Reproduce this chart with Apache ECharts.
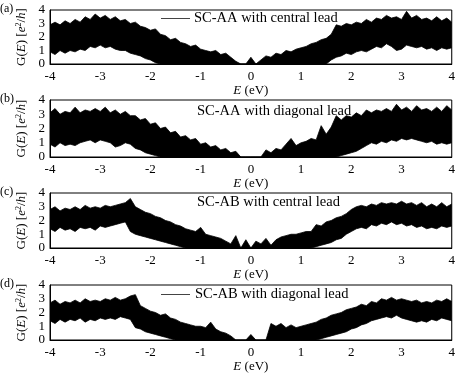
<!DOCTYPE html>
<html><head><meta charset="utf-8">
<script src="https://cdn.jsdelivr.net/npm/echarts@6/dist/echarts.min.js"></script>
<style>html,body{margin:0;padding:0;background:#fff}#c{width:458px;height:375px}</style>
</head><body><div id="c"></div>
<script>
// ---- data ----
// upper and lower envelope of the noisy conductance at E = -4.0, -3.9, ..., 4.0 (81 values each)
const panelTitles = ['SC-AA with central lead', 'SC-AA with diagonal lead', 'SC-AB with central lead', 'SC-AB with diagonal lead'];
const panelLetters = ['(a)', '(b)', '(c)', '(d)'];
const xTicks = [-4, -3, -2, -1, 0, 1, 2, 3, 4];
const yTicks = [0, 1, 2, 3, 4];

const upperA = [2.9,3.1,2.9,3.2,3.0,3.3,3.1,3.5,3.3,3.7,3.4,3.6,3.3,3.5,3.2,3.3,3.0,3.1,2.8,2.7,2.5,2.6,2.2,2.1,1.8,1.9,1.6,1.5,1.3,1.4,1.1,1.0,0.9,1.0,0.7,0.8,0.5,0.2,0.0,0.0,0.5,0.0,0.3,0.6,0.5,0.8,0.7,1.0,0.9,1.1,1.2,1.3,1.5,1.6,1.8,1.9,2.2,2.9,2.8,3.0,2.9,3.1,3.0,3.3,3.1,3.4,3.3,3.6,3.4,3.5,3.3,3.9,3.4,3.6,3.3,3.4,3.2,3.5,3.2,3.4,3.1];
const lowerA = [0.9,0.7,1.0,0.8,1.0,0.9,1.1,1.0,1.3,1.2,1.4,1.2,1.3,1.1,1.0,1.0,0.8,0.7,0.6,0.4,0.3,0.1,
  0,0,0,0,0,0,0,0,0,0,0,0,0,0,0,0,0,0,0,0,0,0,0,0,0,0,0,0,0,0,0,0,0,0,
  0.3,0.5,0.6,0.8,0.7,0.9,1.0,0.9,1.1,1.3,1.2,1.5,1.3,1.0,1.1,1.4,1.3,1.2,1.3,1.1,1.2,1.0,1.2,1.1,1.2];

const upperB = [3.1,3.4,3.0,3.2,3.1,3.5,3.1,3.3,3.2,3.4,3.2,3.5,3.1,3.3,3.0,3.2,2.9,2.9,2.6,2.7,2.3,2.4,2.0,2.1,1.7,1.8,1.4,1.5,1.2,1.3,0.9,1.0,0.7,0.8,0.5,0.6,0.3,0.4,0.0,0.0,0.0,0.0,0.0,0.5,0.3,0.6,0.5,0.9,1.3,0.8,1.0,1.1,1.3,1.2,2.2,1.6,2.1,2.9,2.6,2.9,2.8,3.1,2.9,3.3,3.1,3.3,3.2,3.4,3.2,3.7,3.3,3.5,3.2,3.6,3.3,3.4,3.2,3.5,3.2,3.6,3.3];
const lowerB = [0.9,0.7,1.0,0.8,0.9,0.8,1.0,1.1,1.2,1.0,1.2,1.1,1.0,0.7,0.8,1.0,0.9,0.6,0.5,0.3,0.2,0.1,0.0,0.0,
  0,0,0,0,0,0,0,0,0,0,0,0,0,0,0,0,0,0,0,0,0,0,0,0,0,0,0,0,0,0,0,0,0,0,
  0.1,0.2,0.3,0.4,0.6,0.8,1.0,0.9,1.1,1.0,1.2,1.1,1.3,1.2,1.3,1.2,1.1,1.0,1.1,0.9,1.0,0.9,1.0];

const upperC = [2.8,3.0,2.7,2.9,2.8,3.0,2.8,3.1,2.9,3.0,2.9,3.1,3.0,3.1,3.2,3.3,3.6,3.0,2.8,2.6,2.5,2.3,2.2,2.0,1.9,1.7,1.6,1.4,1.3,1.2,1.5,1.0,0.9,0.8,0.7,0.5,0.3,0.9,0.0,0.6,0.0,0.5,0.3,0.7,0.2,0.6,0.8,0.9,1.0,1.0,1.1,1.2,1.2,1.7,1.6,1.9,2.0,2.2,2.3,2.5,2.8,3.0,3.1,3.0,3.2,3.1,3.3,3.2,3.3,3.2,3.4,3.2,3.3,3.1,3.3,3.0,3.2,3.0,3.3,3.0,3.2];
const lowerC = [1.4,1.2,1.5,1.3,1.4,1.2,1.5,1.4,1.5,1.3,1.6,1.5,1.6,1.7,1.8,1.9,1.2,1.0,0.9,0.8,0.7,0.6,0.5,0.4,0.3,0.2,0.1,0.0,
  0,0,0,0,0,0,0,0,0,0,0,0,0,0,0,0,0,0,0,0,0,0,0,0,0,
  0.1,0.2,0.3,0.4,0.6,0.7,1.0,1.2,1.4,1.5,1.4,1.7,1.6,1.8,1.7,1.9,1.7,1.8,1.6,1.7,1.5,1.6,1.4,1.5,1.4,1.6,1.5,1.6];

const upperD = [2.7,2.9,2.6,2.8,2.7,2.9,2.7,3.0,2.8,2.9,2.8,3.0,2.9,3.1,2.9,3.0,3.2,3.3,2.5,2.3,2.1,2.0,1.8,1.9,1.6,1.5,1.3,1.2,1.1,1.0,1.0,0.9,1.3,0.8,0.6,0.5,0.3,0.0,0.0,0.0,0.4,0.0,0.0,0.0,1.2,1.0,1.2,0.9,1.1,0.9,1.0,1.1,1.2,1.3,1.5,1.6,1.8,1.9,2.0,2.2,2.3,2.4,2.6,2.5,2.8,2.7,3.0,2.9,3.1,2.9,3.0,2.9,2.8,2.9,2.7,2.8,2.7,2.9,2.8,3.0,2.8];
const lowerD = [1.4,1.2,1.5,1.3,1.5,1.4,1.6,1.3,1.5,1.4,1.6,1.5,1.6,1.5,1.7,1.6,1.5,0.9,0.8,0.6,0.5,0.4,0.3,0.2,0.1,0.0,
  0,0,0,0,0,0,0,0,0,0,0,0,0,0,0,0,0,0,0,0,0,0,0,0,0,0,0,0,
  0.1,0.2,0.3,0.4,0.5,0.6,0.8,0.9,1.1,1.2,1.4,1.5,1.6,1.7,1.6,1.8,1.6,1.5,1.4,1.3,1.4,1.3,1.5,1.4,1.6,1.5,1.4];

const uppers = [upperA, upperB, upperC, upperD];
const lowers = [lowerA, lowerB, lowerC, lowerD];

// energy sample positions of the readings
const energies = [];
for (let i = 0; i <= 80; i++) energies.push(Math.round((-4 + 0.1 * i) * 100) / 100);

// ---- chart ----
const FONT = 'Liberation Serif';
const gridDefs = [
  {top: 10, height: 54},
  {top: 100, height: 57},
  {top: 193, height: 55},
  {top: 285, height: 55}
];
const rich = {
  i: {fontFamily: FONT, fontStyle: 'italic', fontSize: 13, color: '#000'},
  s: {fontFamily: FONT, fontStyle: 'italic', fontSize: 13, color: '#000'},
  p: {fontFamily: FONT, fontSize: 8, color: '#000', verticalAlign: 'top', lineHeight: 10}
};

const grid = [], xAxis = [], yAxis = [], series = [], title = [];
gridDefs.forEach((g, k) => {
  grid.push({left: 50, right: 4, top: g.top, height: g.height, show: true, borderColor: '#000', borderWidth: 1, backgroundColor: 'transparent', z: 5});
  xAxis.push({
    type: 'value', gridIndex: k, min: xTicks[0], max: xTicks[xTicks.length - 1], interval: 1, z: 5,
    axisLine: {show: true, onZero: false, lineStyle: {color: '#000', width: 1}}, axisTick: {show: false}, splitLine: {show: false},
    axisLabel: {color: '#000', fontFamily: FONT, fontSize: 13, margin: 6},
    name: '{i|E} (eV)', nameLocation: 'middle', nameGap: 15,
    nameTextStyle: {color: '#000', fontFamily: FONT, fontSize: 13, rich: rich}
  });
  yAxis.push({
    type: 'value', gridIndex: k, min: yTicks[0], max: yTicks[yTicks.length - 1], interval: 1, z: 5,
    axisLine: {show: true, onZero: false, lineStyle: {color: '#000', width: 1}}, axisTick: {show: false}, splitLine: {show: false},
    axisLabel: {color: '#000', fontFamily: FONT, fontSize: 13, margin: 5},
    name: 'G({i|E}) [{s|e}{p|2}/{s|h}]', nameLocation: 'middle', nameGap: 20, nameRotate: 90,
    nameTextStyle: {color: '#000', fontFamily: FONT, fontSize: 13, rich: rich}
  });
  const hi = [], lo = [];
  for (let i = 0; i < energies.length; i++) {
    hi.push([energies[i], uppers[k][i]]);
    lo.push([energies[i], lowers[k][i]]);
  }
  // upper envelope, filled black down to zero
  series.push({
    name: panelTitles[k], type: 'line', xAxisIndex: k, yAxisIndex: k, data: hi, z: 2,
    showSymbol: false, symbol: 'none', animation: false, silent: true,
    lineStyle: {color: '#000', width: 0.8}, itemStyle: {color: '#000'},
    areaStyle: {color: '#000', opacity: 1, origin: 'start'}
  });
  // lower envelope, white below it
  series.push({
    name: 'lower' + k, type: 'line', xAxisIndex: k, yAxisIndex: k, data: lo, z: 3,
    showSymbol: false, symbol: 'none', animation: false, silent: true,
    lineStyle: {color: '#000', width: 0.8}, itemStyle: {color: '#000'},
    areaStyle: {color: '#fff', opacity: 1, origin: 'start'}
  });
  title.push({text: panelLetters[k], left: 0, top: g.top - 7, padding: 0,
    textStyle: {fontFamily: FONT, fontSize: 12, fontWeight: 'normal', color: '#000'}});
});

const tStyle = {fontFamily: FONT, fontSize: 14.5, fontWeight: 'normal', color: '#000'};
title.push({text: panelTitles[0], left: 194, top: 11, padding: 0, textStyle: tStyle});
title.push({text: panelTitles[1], left: 197, top: 104, padding: 0, textStyle: tStyle});
title.push({text: panelTitles[2], left: 197, top: 195, padding: 0, textStyle: tStyle});
title.push({text: panelTitles[3], left: 195, top: 287, padding: 0, textStyle: tStyle});

// legend line samples for panels (a) and (d)
const graphic = [
  {type: 'line', shape: {x1: 161, y1: 18.5, x2: 190, y2: 18.5}, style: {stroke: '#444', lineWidth: 1}, z: 10},
  {type: 'line', shape: {x1: 161, y1: 294.5, x2: 190, y2: 294.5}, style: {stroke: '#444', lineWidth: 1}, z: 10}
];

const chart = echarts.init(document.getElementById('c'), null, {renderer: 'canvas'});
chart.setOption({animation: false, backgroundColor: '#fff', title, grid, xAxis, yAxis, series, graphic});
</script></body></html>
